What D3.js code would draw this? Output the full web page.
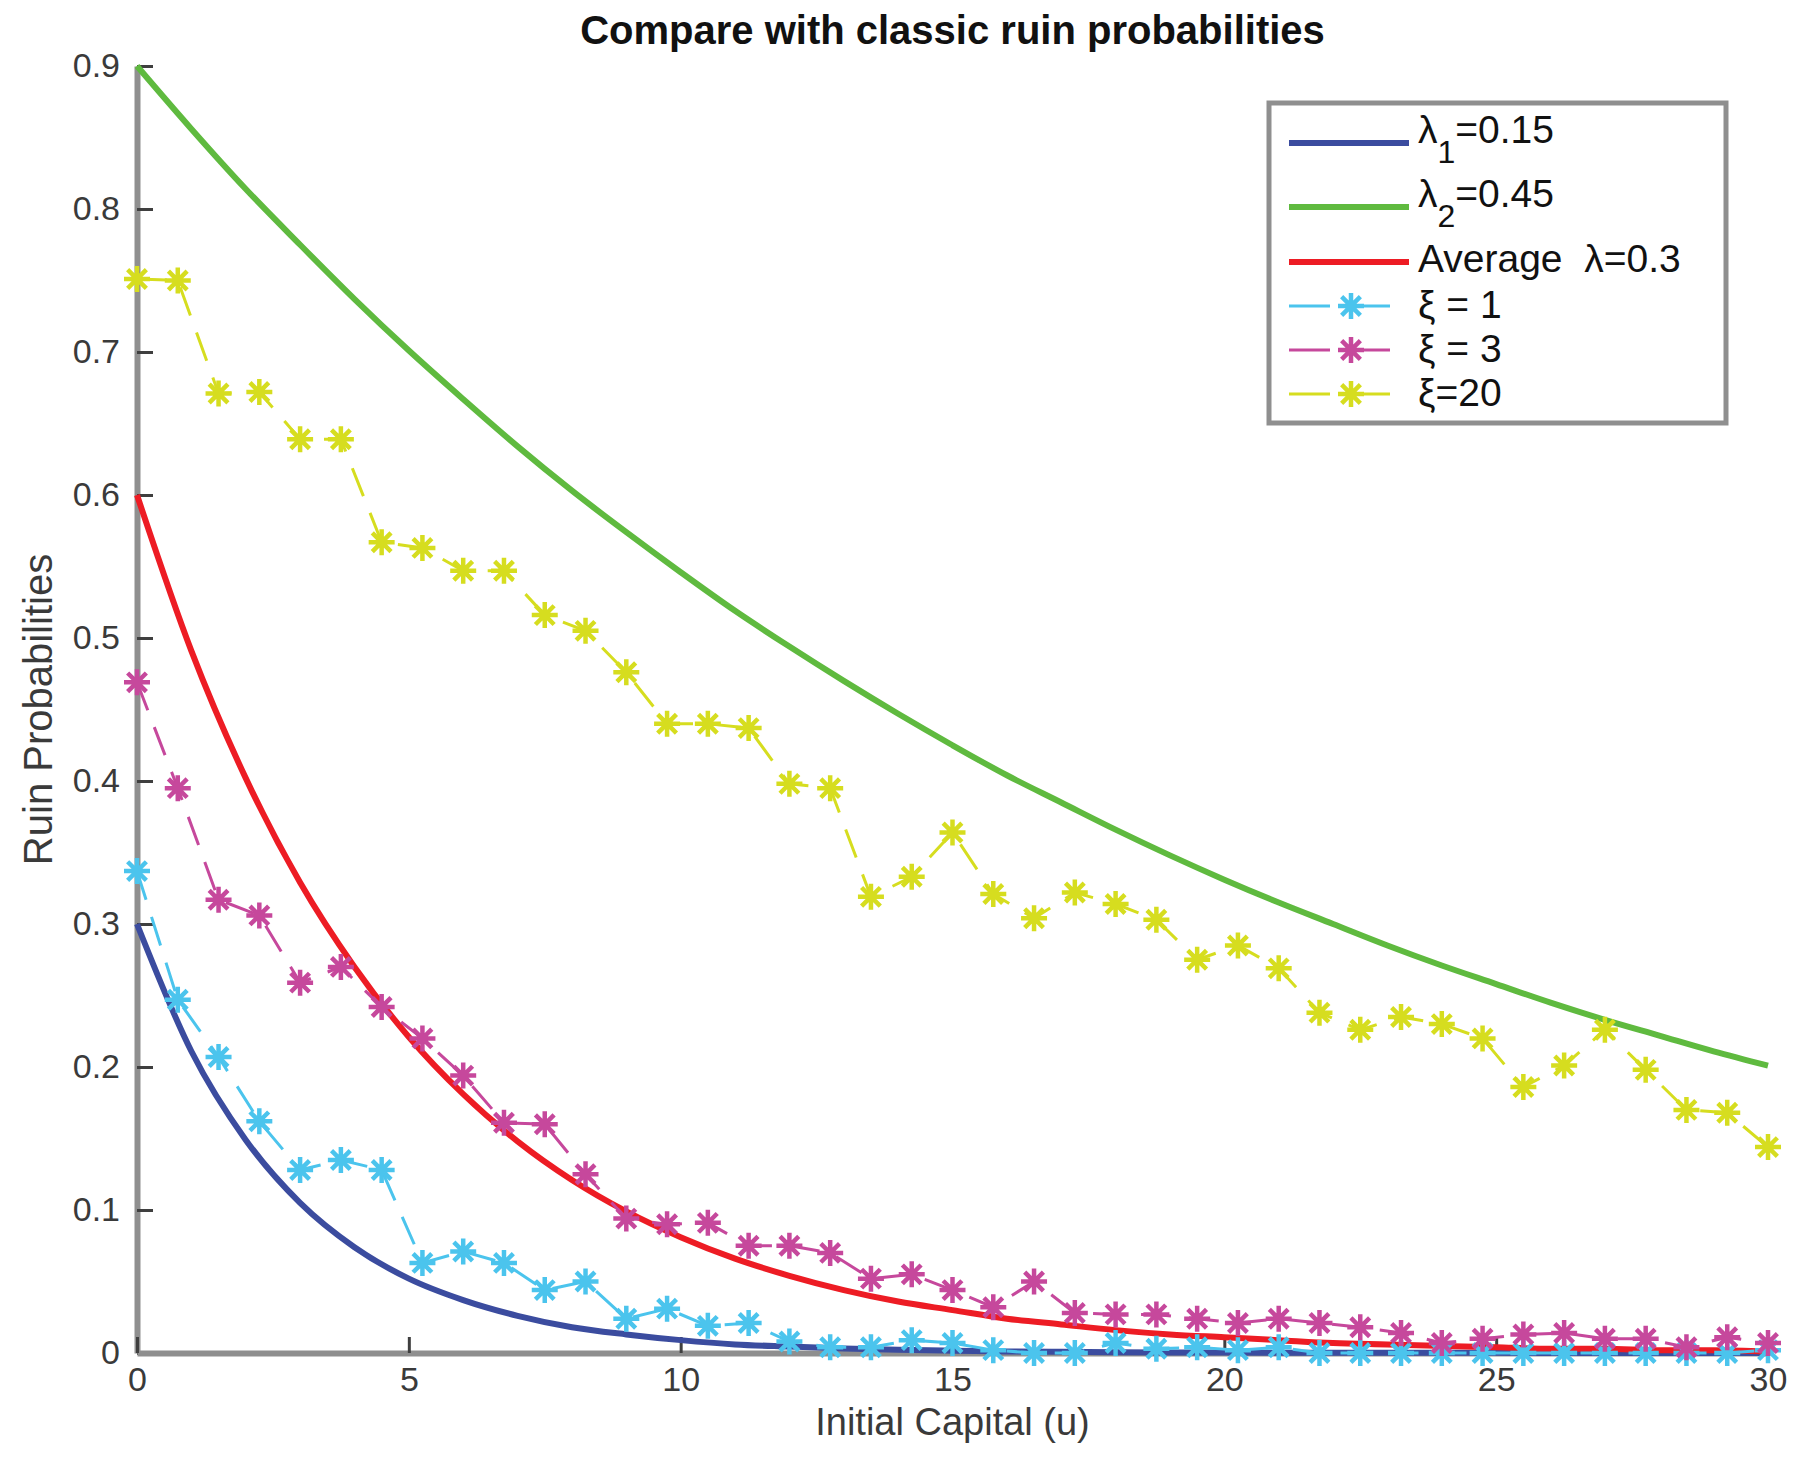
<!DOCTYPE html>
<html>
<head>
<meta charset="utf-8">
<script src="https://cdn.jsdelivr.net/npm/d3@7"></script>
<style>
	body { margin: 0; background: #fff; }
	svg text { font-family: "Liberation Sans", Arial, Helvetica, sans-serif; }
</style>
</head>
<body>
<svg id="viz"></svg>
<script>

	// the data
	var uTheory = [0, 1, 2, 3, 4, 5, 6, 7, 8, 9, 10, 11, 12, 13, 14, 15, 16, 17, 18, 19, 20,
		21, 22, 23, 24, 25, 26, 27, 28, 29, 30];

	var lambda1 = [0.300, 0.211, 0.149, 0.105, 0.074, 0.052, 0.037, 0.026, 0.018, 0.013, 0.009,
		0.006, 0.0045, 0.0032, 0.0022, 0.0016, 0.0011, 0.0008, 0.0006, 0.0004, 0.0003,
		0.0002, 0.0002, 0.0001, 0.0001, 0.0001, 0, 0, 0, 0, 0];

	var lambda2 = [0.900, 0.856, 0.814, 0.775, 0.737, 0.701, 0.667, 0.634, 0.603, 0.574, 0.546,
		0.519, 0.494, 0.470, 0.447, 0.425, 0.404, 0.385, 0.366, 0.348, 0.331,
		0.315, 0.300, 0.285, 0.271, 0.258, 0.245, 0.233, 0.222, 0.211, 0.201];

	var lambdaAvg = [0.600, 0.491, 0.402, 0.329, 0.270, 0.221, 0.181, 0.148, 0.121, 0.099, 0.081,
		0.066, 0.054, 0.044, 0.036, 0.030, 0.024, 0.020, 0.016, 0.013, 0.011,
		0.009, 0.007, 0.006, 0.005, 0.004, 0.003, 0.003, 0.002, 0.002, 0.001];

	var uSim = [0, 0.75, 1.5, 2.25, 3, 3.75, 4.5, 5.25, 6, 6.75, 7.5, 8.25, 9, 9.75, 10.5, 11.25,
		12, 12.75, 13.5, 14.25, 15, 15.75, 16.5, 17.25, 18, 18.75, 19.5, 20.25, 21, 21.75,
		22.5, 23.25, 24, 24.75, 25.5, 26.25, 27, 27.75, 28.5, 29.25, 30];

	var xi1 = [0.337, 0.247, 0.207, 0.162, 0.128, 0.135, 0.128, 0.063, 0.071, 0.063, 0.044, 0.050,
		0.024, 0.031, 0.019, 0.021, 0.008, 0.004, 0.004, 0.009, 0.007, 0.002, 0.000, 0.000,
		0.007, 0.003, 0.004, 0.002, 0.004, 0.000, 0.000, 0.000, 0.000, 0.000, 0.000, 0.000,
		0.000, 0.000, 0.000, 0.000, 0.002];

	var xi3 = [0.469, 0.395, 0.317, 0.306, 0.259, 0.270, 0.242, 0.220, 0.194, 0.161, 0.160, 0.125,
		0.094, 0.090, 0.091, 0.075, 0.075, 0.070, 0.052, 0.055, 0.044, 0.032, 0.050, 0.028,
		0.027, 0.027, 0.024, 0.021, 0.024, 0.021, 0.018, 0.014, 0.007, 0.010, 0.013, 0.014,
		0.010, 0.010, 0.004, 0.011, 0.007];

	var xi20 = [0.751, 0.750, 0.671, 0.672, 0.639, 0.639, 0.567, 0.563, 0.547, 0.547, 0.516, 0.505,
		0.476, 0.440, 0.440, 0.437, 0.398, 0.395, 0.319, 0.333, 0.364, 0.321, 0.304, 0.322,
		0.314, 0.303, 0.275, 0.285, 0.269, 0.238, 0.226, 0.235, 0.230, 0.220, 0.186, 0.201,
		0.226, 0.198, 0.170, 0.168, 0.144];

	var xTicks = [0, 5, 10, 15, 20, 25, 30];
	var yTicks = [0, 0.1, 0.2, 0.3, 0.4, 0.5, 0.6, 0.7, 0.8, 0.9];

	var seriesNames = ["λ1=0.15", "λ2=0.45", "Average  λ=0.3", "ξ = 1", "ξ = 3", "ξ=20"];
	var seriesColors = ["#3b4c9f", "#5fba3f", "#ed1c24", "#4bc4ed", "#c6489c", "#d6dd1f"];

	var titleText = "Compare with classic ruin probabilities";
	var xLabel = "Initial Capital (u)";
	var yLabel = "Ruin Probabilities";



	// set up the svg
	var w = 1801;
	var h = 1460;
	var viz = d3.select("#viz").attr("width", w).attr("height", h);

	var x = d3.scaleLinear().domain([0, 30]).range([137, 1768]);
	var y = d3.scaleLinear().domain([0, 0.9]).range([1353, 66]);
	var axisGray = "#8f8f8f";



	// axes (left and bottom only, ticks pointing inward)
	var yAxis = viz.append("g")
		.attr("transform", "translate(" + x(0) + ",0)")
		.call(d3.axisLeft(y)
			.tickValues(yTicks)
			.tickSize(-16)
			.tickSizeOuter(0)
			.tickPadding(17)
			.tickFormat(function(d) { return d === 0 ? "0" : d3.format(".1f")(d); }));

	var xAxis = viz.append("g")
		.attr("transform", "translate(0," + y(0) + ")")
		.call(d3.axisBottom(x)
			.tickValues(xTicks)
			.tickSize(-16)
			.tickSizeOuter(0)
			.tickPadding(14)
			.tickFormat(d3.format("d")));

	[xAxis, yAxis].forEach(function(g) {
		g.select(".domain").attr("stroke", axisGray).attr("stroke-width", 6);
		g.selectAll(".tick line").attr("stroke", "#3f3f3f").attr("stroke-width", 3);
		g.selectAll(".tick text")
			.attr("fill", "#3a3a3a")
			.style("font-size", "34px");
	});



	// the theoretical curves
	var curve = d3.line()
		.x(function(d) { return x(d[0]); })
		.y(function(d) { return y(d[1]); })
		.curve(d3.curveMonotoneX);

	[lambda1, lambda2, lambdaAvg].forEach(function(vals, i) {
		viz.append("path")
			.datum(d3.zip(uTheory, vals))
			.attr("d", curve)
			.attr("fill", "none")
			.attr("stroke", seriesColors[i])
			.attr("stroke-width", 6)
			.attr("stroke-linejoin", "round");
	});



	// the simulated series, dashed with asterisks
	var straight = d3.line()
		.x(function(d) { return x(d[0]); })
		.y(function(d) { return y(d[1]); });

	function asterisk(r) {
		var q = r * 0.72;
		return "M" + (-r) + ",0L" + r + ",0" +
			"M0," + (-r) + "L0," + r +
			"M" + (-q) + "," + (-q) + "L" + q + "," + q +
			"M" + (-q) + "," + q + "L" + q + "," + (-q);
	}

	[xi1, xi3, xi20].forEach(function(vals, i) {
		var col = seriesColors[i + 3];
		var pts = d3.zip(uSim, vals);

		viz.append("path")
			.datum(pts)
			.attr("d", straight)
			.attr("fill", "none")
			.attr("stroke", col)
			.attr("stroke-width", 3)
			.attr("stroke-dasharray", "30,18");

		viz.append("g").selectAll("path")
			.data(pts)
			.enter()
			.append("path")
			.attr("transform", function(d) { return "translate(" + x(d[0]) + "," + y(d[1]) + ")"; })
			.attr("d", asterisk(13))
			.attr("stroke", col)
			.attr("stroke-width", 4.5)
			.attr("fill", "none");
	});



	// title and axis labels
	viz.append("text")
		.attr("x", (x(0) + x(30)) / 2)
		.attr("y", 44)
		.attr("text-anchor", "middle")
		.style("font-size", "40px")
		.style("font-weight", "bold")
		.attr("fill", "#111")
		.text(titleText);

	viz.append("text")
		.attr("x", (x(0) + x(30)) / 2)
		.attr("y", 1435)
		.attr("text-anchor", "middle")
		.style("font-size", "38px")
		.attr("fill", "#3a3a3a")
		.text(xLabel);

	viz.append("text")
		.attr("transform", "translate(52," + (y(0) + y(0.9)) / 2 + ") rotate(-90)")
		.attr("text-anchor", "middle")
		.style("font-size", "40px")
		.attr("fill", "#3a3a3a")
		.text(yLabel);



	// the legend
	var legend = viz.append("g");
	legend.append("rect")
		.attr("x", 1269)
		.attr("y", 103)
		.attr("width", 457)
		.attr("height", 320)
		.attr("fill", "#fff")
		.attr("stroke", axisGray)
		.attr("stroke-width", 5);

	var rowLine = [143, 207, 262, 306, 350, 394];
	var rowBase = [143, 207, 272, 318, 362, 406];

	seriesNames.forEach(function(name, i) {
		var col = seriesColors[i];
		if (i < 3) {
			legend.append("line")
				.attr("x1", 1289).attr("x2", 1409)
				.attr("y1", rowLine[i]).attr("y2", rowLine[i])
				.attr("stroke", col)
				.attr("stroke-width", 6);
		} else {
			legend.append("line")
				.attr("x1", 1289).attr("x2", 1330)
				.attr("y1", rowLine[i]).attr("y2", rowLine[i])
				.attr("stroke", col).attr("stroke-width", 3);
			legend.append("line")
				.attr("x1", 1351).attr("x2", 1390)
				.attr("y1", rowLine[i]).attr("y2", rowLine[i])
				.attr("stroke", col).attr("stroke-width", 3);
			legend.append("path")
				.attr("transform", "translate(1351," + rowLine[i] + ")")
				.attr("d", asterisk(13))
				.attr("stroke", col)
				.attr("stroke-width", 4.5)
				.attr("fill", "none");
		}

		var t = legend.append("text")
			.attr("x", 1418)
			.attr("y", rowBase[i])
			.attr("fill", "#111")
			.style("font-size", "39px")
			.style("white-space", "pre");

		if (i < 2) {
			// lambda with a subscript index
			t.append("tspan").text(name.charAt(0));
			t.append("tspan").attr("dy", 20).style("font-size", "32px").text(name.charAt(1));
			t.append("tspan").attr("dy", -20).text(name.slice(2));
		} else {
			t.text(name);
		}
	});

</script>
</body>
</html>
